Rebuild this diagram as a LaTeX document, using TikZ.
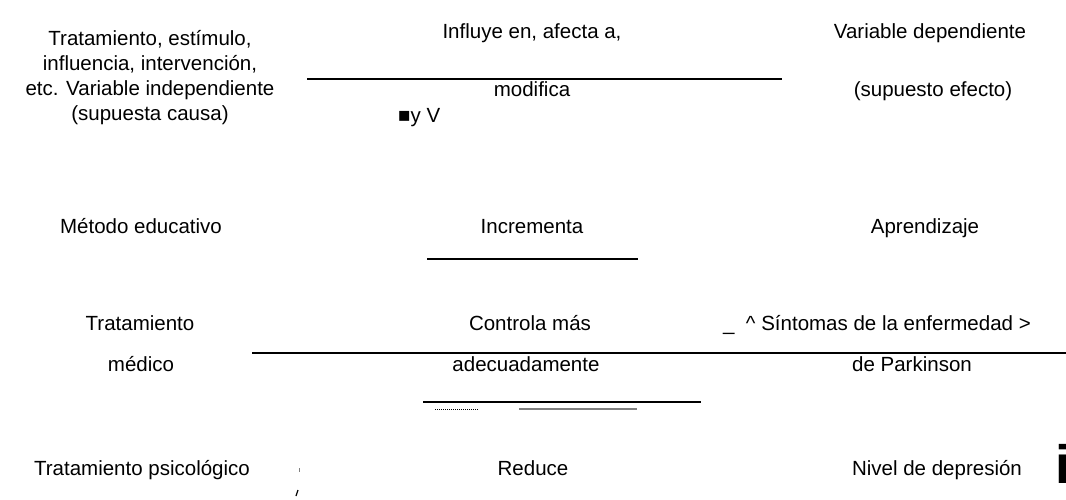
\documentclass[tikz,border=0pt]{standalone}
\usepackage{fontspec}
\setmainfont{Liberation Sans}
\begin{document}
\begin{tikzpicture}[x=1pt,y=-1pt,
  lbl/.style={inner sep=0pt,font=\fontsize{20.5}{26.5}\selectfont,align=center},
  bl/.style={lbl,anchor=base},
  rule/.style={line width=2pt},
  thinrule/.style={line width=1.3pt}]
\useasboundingbox[fill=white] (0,0) rectangle (1066,499);
% top row
\node[lbl,font=\fontsize{20.5}{25}\selectfont] (tl) at (150,78) {Tratamiento, estímulo,\\influencia, intervención,\\etc. Variable independiente\\(supuesta causa)};
\node[bl] (tm1) at (532,38) {Influye en, afecta a,};
\node[bl] (tr1) at (930,38) {Variable dependiente};
\node[bl] (tm2) at (532,96) {modifica};
\node[bl] (tr2) at (933,96) {(supuesto efecto)};
\node[bl,anchor=base west] (yv) at (398,122) {■y V};
\coordinate (l1a) at (307,79); \coordinate (l1b) at (782,79);
\draw[rule] (l1a) -- (l1b);
% row 2
\node[bl] (r2a) at (141,233) {Método educativo};
\node[bl] (r2b) at (532,233) {Incrementa};
\node[bl] (r2c) at (925,233) {Aprendizaje};
\coordinate (l2a) at (427,259); \coordinate (l2b) at (638,259);
\draw[thinrule] (l2a) -- (l2b);
% row 3
\node[bl] (r3a) at (140,330) {Tratamiento};
\node[bl] (r3b) at (530,330) {Controla más};
\node[bl] (r3c) at (877,330) {\_\ \ \textasciicircum{} Síntomas de la enfermedad >};
\coordinate (l3a) at (252,353); \coordinate (l3b) at (1066,353);
\draw[rule] (l3a) -- (l3b);
\node[bl] (r3d) at (141,371) {médico};
\node[bl] (r3e) at (526,371) {adecuadamente};
\node[bl] (r3f) at (912,371) {de Parkinson};
\coordinate (l4a) at (423,402); \coordinate (l4b) at (701,402);
\draw[rule] (l4a) -- (l4b);
\coordinate (d1a) at (435,409); \coordinate (d1b) at (478,409);
\draw[line width=0.8pt,dash pattern=on 0.8pt off 1.2pt] (d1a) -- (d1b);
\coordinate (g1a) at (519,409); \coordinate (g1b) at (637,409);
\draw[line width=1.2pt,gray] (g1a) -- (g1b);
% row 4
\node[bl] (r4a) at (142,475) {Tratamiento psicológico};
\node[bl] (r4b) at (533,475) {Reduce};
\node[bl] (r4c) at (937,475) {Nivel de depresión};
% small marks
\draw[line width=0.8pt,gray] (299,468) -- (299,472);
\draw[line width=1.2pt] (296,496) -- (298,490);
% cut-off glyph
\node[inner sep=0pt,anchor=base west,font=\fontsize{54}{54}\selectfont\bfseries] (ii) at (1055,483) {i};
\end{tikzpicture}
\end{document}
